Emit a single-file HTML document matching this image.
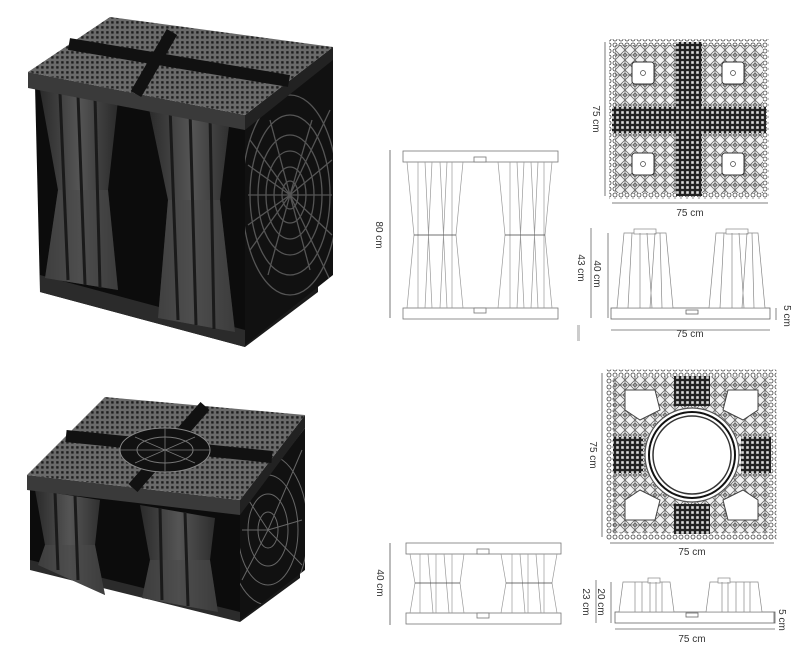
<!DOCTYPE html>
<html><head><meta charset="utf-8"><style>
html,body{margin:0;padding:0;background:#fff;width:800px;height:653px;overflow:hidden}
svg{display:block}
text{font-family:"Liberation Sans",sans-serif;font-size:10px;fill:#333}
</style></head><body>
<svg width="800" height="653" viewBox="0 0 800 653" xmlns="http://www.w3.org/2000/svg">
<defs>
<pattern id="holes" width="5" height="5" patternUnits="userSpaceOnUse">
<rect width="5" height="5" fill="#6a6a6a"/><rect x="1.2" y="1.2" width="2.4" height="2.4" fill="#1e1e1e"/></pattern>
<pattern id="pgrid" width="5" height="5" patternUnits="userSpaceOnUse">
<rect width="5" height="5" fill="#222"/><rect x="1.2" y="1.2" width="2.6" height="2.6" fill="#ddd"/></pattern>
<pattern id="pdots" width="6" height="6" patternUnits="userSpaceOnUse">
<rect width="6" height="6" fill="#fff"/><circle cx="3" cy="3" r="2" fill="none" stroke="#444" stroke-width="0.8"/></pattern>
<pattern id="ptrace" width="10" height="10" patternUnits="userSpaceOnUse">
<rect width="10" height="10" fill="#f2f2f2"/><path d="M0 5 L5 0 L10 5 L5 10Z M5 0V10 M0 5H10" fill="none" stroke="#666" stroke-width="0.8"/><circle cx="5" cy="5" r="1.6" fill="none" stroke="#444" stroke-width="0.6"/></pattern>
<linearGradient id="col" x1="0" x2="1"><stop offset="0" stop-color="#2a2a2a"/><stop offset="0.5" stop-color="#555"/><stop offset="1" stop-color="#2a2a2a"/></linearGradient>
<clipPath id="rf1"><polygon points="245,125 333,55 333,275 245,345"/></clipPath>
<clipPath id="rf2"><polygon points="240,512 305,428 305,570 240,620"/></clipPath>
</defs>

<!-- ===== Top-left cube ===== -->
<polygon points="35,85 245,125 245,347 40,292" fill="#0c0c0c"/>
<polygon points="40,275 245,330 245,347 40,292" fill="#2b2b2b"/>
<polygon points="245,330 318,275 318,292 245,347" fill="#1a1a1a"/>
<polygon points="40,90 118,100 108,190 118,290 45,278 58,190" fill="url(#col)"/>
<polygon points="148,104 230,118 220,200 235,332 158,318 168,200" fill="url(#col)"/>
<polygon points="58,190 108,190 118,290 45,278" fill="#4a4a4a" opacity="0.6"/>
<polygon points="168,200 220,200 235,332 158,318" fill="#4a4a4a" opacity="0.6"/>
<path d="M60,93 L68,280 M78,95 L85,285 M95,97 L100,288 M170,107 L178,320 M190,110 L196,325 M210,114 L214,329" stroke="#1a1a1a" stroke-width="3"/>
<polygon points="245,125 333,55 333,275 245,345" fill="#111"/>
<g stroke="#555" stroke-width="1.3" fill="none" clip-path="url(#rf1)">
<ellipse cx="290" cy="195" rx="8" ry="14"/><ellipse cx="290" cy="195" rx="16" ry="28"/><ellipse cx="290" cy="195" rx="24" ry="44"/><ellipse cx="290" cy="195" rx="32" ry="60"/><ellipse cx="290" cy="195" rx="40" ry="80"/><ellipse cx="290" cy="195" rx="48" ry="100"/>
<path d="M290,195 L250,140 M290,195 L250,250 M290,195 L330,110 M290,195 L330,280 M290,195 L248,195 M290,195 L332,195 M290,195 L270,120 M290,195 L310,270 M290,195 L312,120 M290,195 L268,275 M290,195 L248,165 M290,195 L248,225 M290,195 L332,160 M290,195 L332,235"/>
</g>
<polygon points="28,72 245,115 245,130 28,88" fill="#3a3a3a"/>
<polygon points="245,115 333,47 333,60 245,130" fill="#222"/>
<polygon points="28,72 110,17 333,47 245,115" fill="url(#holes)"/>
<path d="M69,44 L289,81 M172,32 L136,94" stroke="#111" stroke-width="12"/>

<!-- ===== Bottom-left cube ===== -->
<polygon points="30,488 240,512 240,620 30,565" fill="#0c0c0c"/>
<polygon points="30,560 240,612 240,622 30,570" fill="#2b2b2b"/>
<polygon points="240,612 300,568 300,578 240,622" fill="#1a1a1a"/>
<polygon points="35,490 100,500 95,545 105,595 38,565 45,545" fill="url(#col)"/>
<polygon points="140,505 215,518 210,560 218,612 142,598 150,560" fill="url(#col)"/>
<polygon points="45,545 95,545 105,595 38,565" fill="#4a4a4a" opacity="0.6"/>
<polygon points="150,560 210,560 218,612 142,598" fill="#4a4a4a" opacity="0.6"/>
<path d="M55,492 L58,570 M75,495 L78,580 M160,508 L162,600 M185,512 L188,606" stroke="#1a1a1a" stroke-width="3"/>
<polygon points="240,512 305,428 305,570 240,620" fill="#111"/>
<g stroke="#666" stroke-width="1" fill="none" clip-path="url(#rf2)">
<ellipse cx="268" cy="530" rx="10" ry="18"/><ellipse cx="268" cy="530" rx="20" ry="36"/><ellipse cx="268" cy="530" rx="30" ry="55"/><ellipse cx="268" cy="530" rx="40" ry="75"/>
<path d="M268,530 L242,490 M268,530 L242,580 M268,530 L302,450 M268,530 L302,565 M268,530 L242,530 M268,530 L302,520"/>
</g>
<polygon points="27,475 240,500 240,515 27,490" fill="#3a3a3a"/>
<polygon points="240,500 305,415 305,428 240,515" fill="#222"/>
<polygon points="27,475 105,397 305,415 240,500" fill="url(#holes)"/>
<path d="M66,436 L272,457 M205,406 L133,488" stroke="#111" stroke-width="12"/>
<ellipse cx="165" cy="450" rx="45" ry="22" fill="#111" stroke="#888"/>
<ellipse cx="165" cy="450" rx="28" ry="13" fill="none" stroke="#777"/>
<path d="M120,450 H210 M165,428 V472 M135,437 L195,463 M135,463 L195,437" stroke="#777" stroke-width="0.8"/>

<!-- ===== Side view 1 ===== -->
<g fill="#fff" stroke="#777" stroke-width="0.8">
<rect x="403" y="151" width="155" height="11"/><rect x="403" y="308" width="155" height="11"/>
<rect x="474" y="157" width="12" height="5"/><rect x="474" y="308" width="12" height="5"/>
</g>
<g stroke="#999" stroke-width="0.7" fill="none">
<path d="M407,162 L414,235 L407,308 M463,162 L456,235 L463,308 M418,162 L418,308 M425,162 L432,308 M432,162 L425,308 M440,162 L447,308 M447,162 L440,308 M452,162 L452,308"/>
<path d="M498,162 L505,235 L498,308 M552,162 L545,235 L552,308 M510,162 L510,308 M517,162 L524,308 M524,162 L517,308 M531,162 L538,308 M538,162 L531,308 M544,162 L544,308"/>
</g>
<path d="M414,235 H456 M505,235 H545" stroke="#444" stroke-width="0.8"/>
<path d="M390,150 V318" stroke="#555" stroke-width="0.8"/>
<text transform="translate(376,235) rotate(90)" text-anchor="middle">80 cm</text>

<!-- ===== Plan 1 ===== -->
<rect x="612" y="42" width="154" height="154" fill="url(#ptrace)" stroke="#333"/>
<rect x="612" y="42" width="154" height="154" fill="none" stroke="url(#pdots)" stroke-width="6"/>
<rect x="676" y="42" width="26" height="154" fill="url(#pgrid)"/>
<rect x="612" y="107" width="154" height="26" fill="url(#pgrid)"/>
<g fill="#fff" stroke="#333">
<rect x="632" y="62" width="22" height="22" rx="3"/><rect x="722" y="62" width="22" height="22" rx="3"/>
<rect x="632" y="153" width="22" height="22" rx="3"/><rect x="722" y="153" width="22" height="22" rx="3"/>
</g>
<g fill="none" stroke="#444" stroke-width="0.7">
<circle cx="643" cy="73" r="2.5"/><circle cx="733" cy="73" r="2.5"/><circle cx="643" cy="164" r="2.5"/><circle cx="733" cy="164" r="2.5"/>
</g>
<path d="M605,42 V196" stroke="#555" stroke-width="0.8"/>
<text transform="translate(593,119) rotate(90)" text-anchor="middle">75 cm</text>
<path d="M612,203 H768" stroke="#555" stroke-width="0.8"/>
<text x="690" y="216" text-anchor="middle">75 cm</text>

<!-- ===== Side view 2 ===== -->
<rect x="611" y="308" width="159" height="11" fill="#fff" stroke="#666" stroke-width="0.8"/>
<rect x="686" y="310" width="12" height="4" fill="#fff" stroke="#666" stroke-width="0.8"/>
<g fill="#fff" stroke="#888" stroke-width="0.7">
<polygon points="624,233 666,233 673,308 617,308"/><polygon points="716,233 758,233 765,308 709,308"/>
<rect x="634" y="229" width="22" height="5"/><rect x="726" y="229" width="22" height="5"/>
<path d="M632,233 L628,308 M640,233 L640,308 M647,233 L652,308 M655,233 L650,308 M660,233 L662,308 M724,233 L720,308 M732,233 L732,308 M739,233 L744,308 M747,233 L742,308 M752,233 L754,308" fill="none"/>
</g>
<path d="M591,228 V318 M608,233 V318 M611,330 H770 M776,308 V320" stroke="#666" stroke-width="0.8"/>
<text transform="translate(594,274) rotate(90)" text-anchor="middle">40 cm</text>
<text transform="translate(578,268) rotate(90)" text-anchor="middle">43 cm</text>
<text transform="translate(784,316) rotate(90)" text-anchor="middle">5 cm</text>
<text x="690" y="337" text-anchor="middle">75 cm</text>
<rect x="577" y="325" width="3" height="16" fill="#ccc"/>

<!-- ===== Plan 2 ===== -->
<rect x="610" y="373" width="163" height="163" fill="url(#ptrace)" stroke="#333"/>
<rect x="610" y="373" width="163" height="163" fill="none" stroke="url(#pdots)" stroke-width="7"/>
<rect x="674" y="376" width="36" height="30" fill="url(#pgrid)"/>
<rect x="674" y="504" width="36" height="30" fill="url(#pgrid)"/>
<rect x="613" y="437" width="30" height="36" fill="url(#pgrid)"/>
<rect x="741" y="437" width="30" height="36" fill="url(#pgrid)"/>
<g fill="#fff" stroke="#444" stroke-width="1">
<path d="M625,390 L655,390 L660,410 L640,420 L625,410Z"/><path d="M758,390 L728,390 L723,410 L743,420 L758,410Z"/>
<path d="M625,520 L655,520 L660,500 L640,490 L625,500Z"/><path d="M758,520 L728,520 L723,500 L743,490 L758,500Z"/>
</g>
<circle cx="692" cy="455" r="47" fill="#fff" stroke="#555" stroke-width="1.2"/>
<circle cx="692" cy="455" r="43" fill="#fff" stroke="#111" stroke-width="2"/>
<circle cx="692" cy="455" r="39" fill="#fff" stroke="#333" stroke-width="1.5"/>
<path d="M602,373 V537" stroke="#555" stroke-width="0.8"/>
<text transform="translate(590,455) rotate(90)" text-anchor="middle">75 cm</text>
<path d="M610,543 H774" stroke="#555" stroke-width="0.8"/>
<text x="692" y="555" text-anchor="middle">75 cm</text>

<!-- ===== Side view 3 ===== -->
<g fill="#fff" stroke="#777" stroke-width="0.8">
<rect x="406" y="543" width="155" height="11"/><rect x="406" y="613" width="155" height="11"/>
<rect x="477" y="549" width="12" height="5"/><rect x="477" y="613" width="12" height="5"/>
</g>
<g stroke="#999" stroke-width="0.7" fill="none">
<path d="M410,554 L415,583 L410,613 M464,554 L460,583 L464,613 M420,554 V613 M428,554 L433,613 M436,554 V613 M444,554 L449,613 M452,554 V613"/>
<path d="M501,554 L506,583 L501,613 M557,554 L552,583 L557,613 M512,554 V613 M520,554 L525,613 M528,554 V613 M536,554 L541,613 M544,554 V613"/>
</g>
<path d="M415,583 H460 M506,583 H552" stroke="#444" stroke-width="0.8"/>
<path d="M390,543 V625" stroke="#555" stroke-width="0.8"/>
<text transform="translate(377,583) rotate(90)" text-anchor="middle">40 cm</text>

<!-- ===== Side view 4 ===== -->
<rect x="615" y="612" width="160" height="11" fill="#fff" stroke="#666" stroke-width="0.8"/>
<rect x="686" y="613" width="12" height="4" fill="#fff" stroke="#666" stroke-width="0.8"/>
<g fill="#fff" stroke="#888" stroke-width="0.7">
<polygon points="623,582 670,582 674,612 619,612"/><polygon points="710,582 758,582 762,612 706,612"/>
<rect x="648" y="578" width="12" height="5"/><rect x="718" y="578" width="12" height="5"/>
<path d="M635,582 V612 M642,582 V612 M650,582 V612 M656,582 V612 M662,582 V612 M722,582 V612 M728,582 V612 M736,582 V612 M744,582 V612 M750,582 V612" fill="none"/>
</g>
<path d="M596,580 V623 M611,582 V623 M615,629 H775 M774,612 V623" stroke="#666" stroke-width="0.8"/>
<text transform="translate(598,602) rotate(90)" text-anchor="middle">20 cm</text>
<text transform="translate(583,602) rotate(90)" text-anchor="middle">23 cm</text>
<text transform="translate(779,620) rotate(90)" text-anchor="middle">5 cm</text>
<text x="692" y="642" text-anchor="middle">75 cm</text>
</svg>
</body></html>
